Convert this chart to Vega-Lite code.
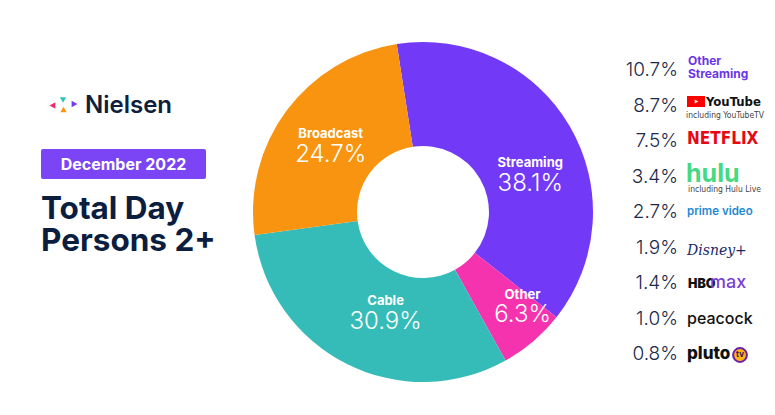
{
  "$schema": "https://vega.github.io/schema/vega-lite/v6.json",
  "width": 775,
  "height": 415,
  "autosize": "none",
  "padding": 0,
  "background": "white",
  "config": {"view": {"stroke": null}, "font": "Inter"},
  "datasets": {
    "segments": [
      {"category": "Streaming", "pct": 0.381, "rank": 1},
      {"category": "Other", "pct": 0.063, "rank": 2},
      {"category": "Cable", "pct": 0.309, "rank": 3},
      {"category": "Broadcast", "pct": 0.247, "rank": 4}
    ],
    "services": [
      {"name": "Other Streaming", "pct": 0.107, "logo": "Other Streaming"},
      {"name": "YouTube", "pct": 0.087, "logo": "YouTube", "note": "including YouTubeTV"},
      {"name": "Netflix", "pct": 0.075, "logo": "NETFLIX"},
      {"name": "Hulu", "pct": 0.034, "logo": "hulu", "note": "including Hulu Live"},
      {"name": "Prime Video", "pct": 0.027, "logo": "prime video"},
      {"name": "Disney+", "pct": 0.019, "logo": "Disney+"},
      {"name": "HBO Max", "pct": 0.014, "logo": "HBO", "logo2": "max"},
      {"name": "Peacock", "pct": 0.010, "logo": "peacock"},
      {"name": "Pluto TV", "pct": 0.008, "logo": "pluto", "logo2": "tv"}
    ],
    "one": [{}]
  },
  "layer": [
    {
      "data": {"name": "segments"},
      "transform": [
        {"stack": "pct", "groupby": [], "sort": [{"field": "rank", "order": "ascending"}], "as": ["start", "end"]},
        {"calculate": "(datum.start + datum.end) / 2", "as": "mid"}
      ],
      "layer": [
        {
          "mark": {"type": "arc", "innerRadius": 66, "outerRadius": 170, "x": 423, "y": 212},
          "encoding": {
            "theta": {"field": "start", "type": "quantitative", "scale": {"domain": [0, 1], "range": [-0.1553, 6.1279]}},
            "theta2": {"field": "end"},
            "color": {
              "field": "category", "type": "nominal", "legend": null,
              "scale": {"domain": ["Streaming", "Other", "Cable", "Broadcast"], "range": ["#7239F6", "#F533AE", "#35BCB8", "#F8940F"]}
            }
          }
        },
        {
          "transform": [{"filter": "datum.category == 'Broadcast'"}],
          "mark": {"type": "text", "radius": 115, "x": 423, "y": 213, "dy": -10, "fontSize": 13, "fontWeight": "bold", "color": "white"},
          "encoding": {"theta": {"field": "mid", "type": "quantitative"}, "text": {"field": "category"}}
        },
        {
          "transform": [{"filter": "datum.category == 'Broadcast'"}],
          "mark": {"type": "text", "radius": 115, "x": 423, "y": 213, "dy": 11, "fontSize": 24, "fontWeight": 300, "color": "white"},
          "encoding": {"theta": {"field": "mid", "type": "quantitative"}, "text": {"field": "pct", "format": ".1%"}}
        },
        {
          "transform": [{"filter": "datum.category == 'Cable'"}],
          "mark": {"type": "text", "radius": 115, "x": 437, "y": 208, "dy": -10, "fontSize": 13, "fontWeight": "bold", "color": "white"},
          "encoding": {"theta": {"field": "mid", "type": "quantitative"}, "text": {"field": "category"}}
        },
        {
          "transform": [{"filter": "datum.category == 'Cable'"}],
          "mark": {"type": "text", "radius": 115, "x": 437, "y": 208, "dy": 11, "fontSize": 24, "fontWeight": 300, "color": "white"},
          "encoding": {"theta": {"field": "mid", "type": "quantitative"}, "text": {"field": "pct", "format": ".1%"}}
        },
        {
          "transform": [{"filter": "datum.category == 'Streaming'"}],
          "mark": {"type": "text", "radius": 115, "x": 431, "y": 231, "dy": -10, "fontSize": 13, "fontWeight": "bold", "color": "white"},
          "encoding": {"theta": {"field": "mid", "type": "quantitative"}, "text": {"field": "category"}}
        },
        {
          "transform": [{"filter": "datum.category == 'Streaming'"}],
          "mark": {"type": "text", "radius": 115, "x": 431, "y": 231, "dy": 11, "fontSize": 24, "fontWeight": 300, "color": "white"},
          "encoding": {"theta": {"field": "mid", "type": "quantitative"}, "text": {"field": "pct", "format": ".1%"}}
        },
        {
          "transform": [{"filter": "datum.category == 'Other'"}],
          "mark": {"type": "text", "radius": 132, "x": 437, "y": 204, "dy": -10, "fontSize": 13, "fontWeight": "bold", "color": "white"},
          "encoding": {"theta": {"field": "mid", "type": "quantitative"}, "text": {"field": "category"}}
        },
        {
          "transform": [{"filter": "datum.category == 'Other'"}],
          "mark": {"type": "text", "radius": 132, "x": 437, "y": 204, "dy": 10, "fontSize": 24, "fontWeight": 300, "color": "white"},
          "encoding": {"theta": {"field": "mid", "type": "quantitative"}, "text": {"field": "pct", "format": ".1%"}}
        }
      ]
    },
    {
      "data": {"name": "services"},
      "encoding": {
        "y": {
          "field": "name", "type": "nominal", "axis": null,
          "scale": {"type": "point", "padding": 0, "range": [70, 354],
            "domain": ["Other Streaming", "YouTube", "Netflix", "Hulu", "Prime Video", "Disney+", "HBO Max", "Peacock", "Pluto TV"]}
        }
      },
      "layer": [
        {
          "mark": {"type": "text", "align": "right", "baseline": "middle", "x": 678, "fontSize": 19, "fontWeight": 300, "color": "#1B2A4A"},
          "encoding": {"text": {"field": "pct", "format": ".1%"}}
        },
        {
          "transform": [{"filter": "datum.name == 'Other Streaming'"}],
          "mark": {"type": "text", "align": "left", "baseline": "middle", "x": 688, "dy": -9, "lineBreak": " ", "lineHeight": 13, "fontSize": 12, "fontWeight": "bold", "color": "#6A35E8"},
          "encoding": {"text": {"field": "logo"}}
        },
        {
          "transform": [{"filter": "datum.name == 'YouTube'"}],
          "mark": {"type": "point", "shape": "M-0.9,-0.55H0.9V0.55H-0.9Z", "filled": true, "size": 400, "opacity": 1, "x": 696, "yOffset": -4, "color": "#FF0000", "strokeJoin": "round"},
          "encoding": {}
        },
        {
          "transform": [{"filter": "datum.name == 'YouTube'"}],
          "mark": {"type": "point", "shape": "triangle-right", "filled": true, "size": 18, "opacity": 1, "x": 696.5, "yOffset": -4, "color": "white"},
          "encoding": {}
        },
        {
          "transform": [{"filter": "datum.name == 'YouTube'"}],
          "mark": {"type": "text", "align": "left", "baseline": "middle", "x": 706, "dy": -4, "font": "DejaVu Sans Condensed, Liberation Sans", "fontSize": 13, "fontWeight": "bold", "letterSpacing": -1.1, "color": "#111111"},
          "encoding": {"text": {"field": "logo"}}
        },
        {
          "transform": [{"filter": "datum.name == 'YouTube'"}],
          "mark": {"type": "text", "align": "left", "baseline": "middle", "x": 686, "dy": 9, "font": "DejaVu Sans Condensed, Liberation Sans", "fontSize": 8.5, "letterSpacing": -0.2, "color": "#444444"},
          "encoding": {"text": {"field": "note"}}
        },
        {
          "transform": [{"filter": "datum.name == 'Hulu'"}],
          "mark": {"type": "text", "align": "left", "baseline": "middle", "x": 688, "dy": 12, "font": "DejaVu Sans Condensed, Liberation Sans", "fontSize": 8.5, "letterSpacing": -0.2, "color": "#444444"},
          "encoding": {"text": {"field": "note"}}
        },
        {
          "transform": [{"filter": "datum.name == 'Netflix'"}],
          "mark": {"type": "text", "align": "left", "baseline": "middle", "x": 687, "dy": -2, "font": "DejaVu Sans Condensed, Liberation Sans", "fontSize": 17, "fontWeight": "bold", "letterSpacing": -1.9, "color": "#E50914"},
          "encoding": {"text": {"field": "logo"}}
        },
        {
          "transform": [{"filter": "datum.name == 'Hulu'"}],
          "mark": {"type": "text", "align": "left", "baseline": "alphabetic", "x": 686, "dy": 5, "fontSize": 25, "fontWeight": "bold", "letterSpacing": -0.6, "color": "#45D983"},
          "encoding": {"text": {"field": "logo"}}
        },
        {
          "transform": [{"filter": "datum.name == 'Prime Video'"}],
          "mark": {"type": "text", "align": "left", "baseline": "middle", "x": 687, "dy": 0, "fontSize": 11.5, "fontWeight": 600, "letterSpacing": -0.6, "color": "#1F8AD1"},
          "encoding": {"text": {"field": "logo"}}
        },
        {
          "transform": [{"filter": "datum.name == 'Disney+'"}],
          "mark": {"type": "text", "align": "left", "baseline": "middle", "x": 687, "dy": 3, "font": "DejaVu Serif", "fontStyle": "italic", "fontSize": 14, "letterSpacing": -0.5, "color": "#17296B"},
          "encoding": {"text": {"field": "logo"}}
        },
        {
          "transform": [{"filter": "datum.name == 'HBO Max'"}],
          "mark": {"type": "text", "align": "left", "baseline": "middle", "x": 688, "dy": 1, "fontSize": 12.5, "fontWeight": 900, "letterSpacing": -0.8, "color": "#111111"},
          "encoding": {"text": {"field": "logo"}}
        },
        {
          "transform": [{"filter": "datum.name == 'HBO Max'"}],
          "mark": {"type": "text", "align": "left", "baseline": "middle", "x": 710, "dy": 0, "fontSize": 18, "fontWeight": 500, "color": "#7A3FD3"},
          "encoding": {"text": {"field": "logo2"}}
        },
        {
          "transform": [{"filter": "datum.name == 'Peacock'"}],
          "mark": {"type": "text", "align": "left", "baseline": "middle", "x": 687, "dy": 0, "fontSize": 16, "fontWeight": 500, "letterSpacing": -0.9, "color": "#111111"},
          "encoding": {"text": {"field": "logo"}}
        },
        {
          "transform": [{"filter": "datum.name == 'Pluto TV'"}],
          "mark": {"type": "text", "align": "left", "baseline": "middle", "x": 687, "dy": 0, "fontSize": 17, "fontWeight": 800, "letterSpacing": -0.5, "color": "#111111"},
          "encoding": {"text": {"field": "logo"}}
        },
        {
          "transform": [{"filter": "datum.name == 'Pluto TV'"}],
          "mark": {"type": "point", "shape": "circle", "filled": true, "size": 190, "opacity": 1, "x": 740, "yOffset": 1, "color": "#FDB515", "stroke": "#6B21A8", "strokeWidth": 2},
          "encoding": {}
        },
        {
          "transform": [{"filter": "datum.name == 'Pluto TV'"}],
          "mark": {"type": "text", "align": "center", "baseline": "middle", "x": 740, "dy": 1, "fontSize": 8, "fontWeight": "bold", "color": "#3B1060"},
          "encoding": {"text": {"field": "logo2"}}
        }
      ]
    },
    {
      "data": {"name": "one"},
      "layer": [
        {"mark": {"type": "rule", "x": 606, "x2": 606, "y": 66, "y2": 359, "color": "#BDAAF7", "strokeWidth": 1}, "encoding": {}},
        {"mark": {"type": "rule", "x": 606, "x2": 614, "y": 66, "y2": 66, "color": "#BDAAF7", "strokeWidth": 1}, "encoding": {}},
        {"mark": {"type": "rule", "x": 606, "x2": 614, "y": 359, "y2": 359, "color": "#BDAAF7", "strokeWidth": 1}, "encoding": {}},
        {"mark": {"type": "rule", "x": 593, "x2": 606, "y": 212, "y2": 212, "color": "#BDAAF7", "strokeWidth": 1}, "encoding": {}},
        {"mark": {"type": "point", "shape": "triangle-left", "filled": true, "opacity": 1, "size": 45, "x": 52.5, "y": 105.5, "color": "#EE2A6B"}, "encoding": {}},
        {"mark": {"type": "point", "shape": "triangle-down", "filled": true, "opacity": 1, "size": 40, "x": 63, "y": 100, "color": "#2EC4B6"}, "encoding": {}},
        {"mark": {"type": "point", "shape": "triangle-up", "filled": true, "opacity": 1, "size": 40, "x": 63.5, "y": 109.5, "color": "#F8940F"}, "encoding": {}},
        {"mark": {"type": "point", "shape": "triangle-right", "filled": true, "opacity": 1, "size": 45, "x": 74.5, "y": 104, "color": "#7239F6"}, "encoding": {}},
        {"mark": {"type": "rect", "x": 41, "x2": 206, "y": 149, "y2": 179, "cornerRadius": 2, "color": "#7B45F6"}, "encoding": {}}
      ]
    },
    {
      "data": {"values": [{"t": "Nielsen"}]},
      "mark": {"type": "text", "align": "left", "baseline": "alphabetic", "x": 85, "y": 113, "fontSize": 24, "fontWeight": 600, "color": "#0F1E3C"},
      "encoding": {"text": {"field": "t"}}
    },
    {
      "data": {"values": [{"t": "December 2022"}]},
      "mark": {"type": "text", "align": "center", "baseline": "middle", "x": 123.5, "y": 164.5, "fontSize": 16, "fontWeight": "bold", "color": "white"},
      "encoding": {"text": {"field": "t"}}
    },
    {
      "data": {"values": [{"t": "Total Day"}]},
      "mark": {"type": "text", "align": "left", "baseline": "alphabetic", "x": 41, "y": 219, "fontSize": 31.5, "fontWeight": 700, "letterSpacing": -1.3, "color": "#0B1E3F"},
      "encoding": {"text": {"field": "t"}}
    },
    {
      "data": {"values": [{"t": "Persons 2+"}]},
      "mark": {"type": "text", "align": "left", "baseline": "alphabetic", "x": 41, "y": 251, "fontSize": 31.5, "fontWeight": 700, "letterSpacing": -1.3, "color": "#0B1E3F"},
      "encoding": {"text": {"field": "t"}}
    }
  ]
}
